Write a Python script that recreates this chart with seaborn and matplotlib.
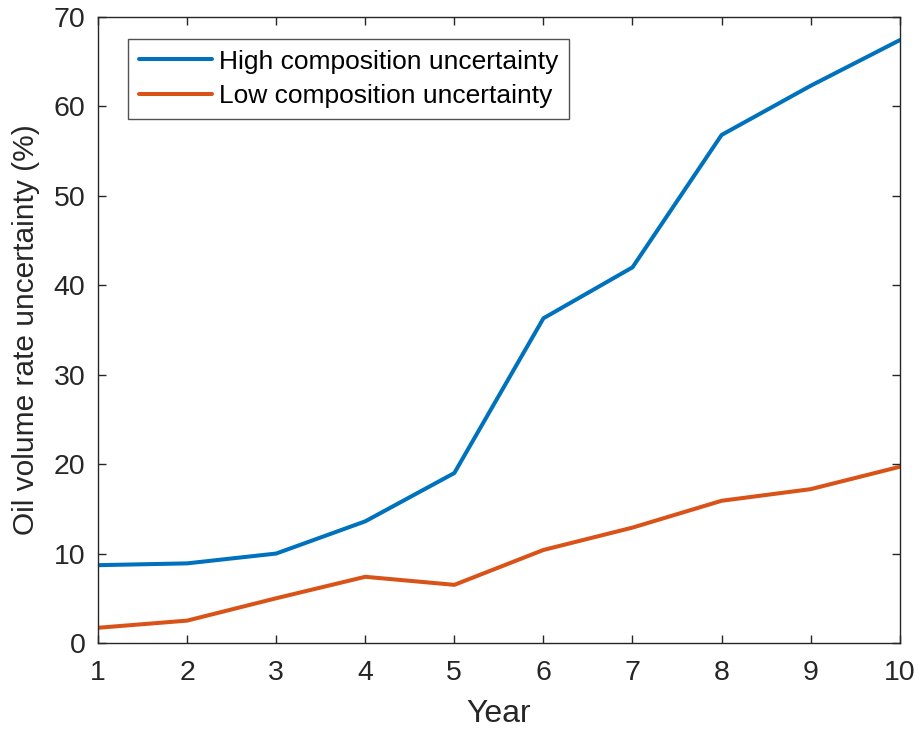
import matplotlib
matplotlib.use("Agg")
import matplotlib.pyplot as plt
import seaborn as sns
import pandas as pd

years = [1, 2, 3, 4, 5, 6, 7, 8, 9, 10]
high_unc = [8.7, 8.9, 10.0, 13.6, 19.0, 36.3, 42.0, 56.8, 62.3, 67.4]
low_unc = [1.7, 2.5, 5.0, 7.4, 6.5, 10.4, 12.9, 15.9, 17.2, 19.7]
series_names = ["High composition uncertainty", "Low composition uncertainty"]

df = pd.DataFrame({
    "Year": years * 2,
    "value": high_unc + low_unc,
    "series": [series_names[0]] * len(years) + [series_names[1]] * len(years),
})

sns.set_theme(style="white")
plt.rcParams["font.family"] = ["Liberation Sans", "DejaVu Sans"]
txt = "#262626"

fig = plt.figure(figsize=(9.2, 7.34), dpi=100)
ax = fig.add_axes([0.1065, 0.124, 0.8715, 0.853])
sns.lineplot(data=df, x="Year", y="value", hue="series",
             palette=["#0072BD", "#D95319"], linewidth=2.9, ax=ax)

ax.set_xlim(1, 10)
ax.set_ylim(0, 70)
ax.set_xticks(range(1, 11))
ax.set_yticks(range(0, 71, 10))
ax.tick_params(direction="in", length=6, width=1, colors=txt,
               labelsize=20.5, top=True, right=True, bottom=True, left=True,
               labelcolor=txt)
ax.tick_params(axis="x", pad=12)
ax.tick_params(axis="y", pad=9)
for s in ax.spines.values():
    s.set_color(txt)
    s.set_linewidth(1)
ax.set_xlabel("Year", fontsize=23, color=txt)
ax.set_ylabel("Oil volume rate uncertainty (%)", fontsize=21.5, color=txt)
ax.xaxis.set_label_coords(0.5, -0.09)
ax.yaxis.set_label_coords(-0.072, 0.5)

leg = ax.legend(loc="upper left", bbox_to_anchor=(0.038, 0.9645), fontsize=19,
                frameon=True, fancybox=False, edgecolor=txt, handlelength=2.75,
                borderpad=0.4, labelspacing=0.4, handletextpad=0.27,
                borderaxespad=0)
leg.get_frame().set_linewidth(1)
for t in leg.get_texts():
    t.set_color("black")

fig.savefig("out.png", dpi=100)
